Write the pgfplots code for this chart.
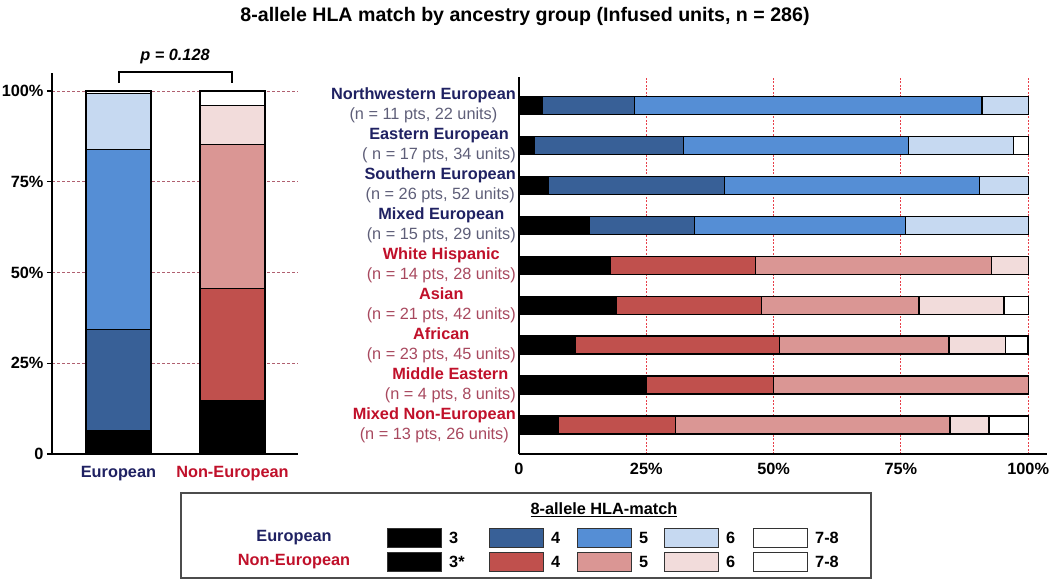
\documentclass[border=0pt]{standalone}
\usepackage{pgfplots}
\usepackage{pgfplotstable}
\pgfplotsset{compat=1.18}
\usepackage{fontspec}
\setmainfont{Liberation Sans}
\definecolor{b4}{HTML}{386097}
\definecolor{b5}{HTML}{558ED5}
\definecolor{b6}{HTML}{C6D9F1}
\definecolor{r4}{HTML}{C0504D}
\definecolor{r5}{HTML}{DA9694}
\definecolor{r6}{HTML}{F2DCDB}
\definecolor{navy}{HTML}{1F2162}
\definecolor{redtxt}{HTML}{C0102A}
\definecolor{graytxt}{HTML}{5E5E78}
\definecolor{rosetxt}{HTML}{A8485E}
\definecolor{gridred}{HTML}{B06070}
\definecolor{gridred2}{HTML}{E8404A}

\pgfplotstableread{
grp e3 e4 e5 e6 e78 n3 n4 n5 n6 n78
0 6.57 27.74 49.64 15.33 0.73 0 0 0 0 0
1 0 0 0 0 0 14.77 30.87 39.60 10.74 4.03
}\overall

\pgfplotstableread{
row e3 e4 e5 e6 e78 n3 n4 n5 n6 n78
9 4.55 18.18 68.18 9.09 0 0 0 0 0 0
8 2.94 29.41 44.12 20.59 2.94 0 0 0 0 0
7 5.77 34.62 50.00 9.62 0 0 0 0 0 0
6 13.79 20.69 41.38 24.14 0 0 0 0 0 0
5 0 0 0 0 0 17.86 28.57 46.43 7.14 0
4 0 0 0 0 0 19.05 28.57 30.95 16.67 4.76
3 0 0 0 0 0 11.11 40.00 33.33 11.11 4.44
2 0 0 0 0 0 25 25 50 0 0
1 0 0 0 0 0 7.69 23.08 53.85 7.69 7.69
}\rows

\newcommand{\fs}{\fontsize{16.3}{20}\selectfont}

\begin{document}
\begin{tikzpicture}
\path[use as bounding box] (0pt,0pt) rectangle (1050pt,-579pt);

\node[font=\fontsize{19.6}{22}\selectfont\bfseries] at (525pt,-16pt) {8-allele HLA match by ancestry group (Infused units, n = 286)};

% Left chart
\begin{axis}[
  at={(52pt,-454pt)}, anchor=south west,
  scale only axis, width=246pt, height=381pt,
  ybar stacked, bar width=65pt,
  xmin=-0.583, xmax=1.575, ymin=0, ymax=104.96,
  axis x line*=bottom, axis y line*=left,
  axis line style={line width=1.5pt, -},
  xtick={0,1},
  xticklabels={\textcolor{navy}{European},\textcolor{redtxt}{Non-European}},
  x tick style={draw=none},
  xticklabel style={yshift=-4pt},
  ytick={0,25,50,75,100},
  yticklabels={0,25\%,50\%,75\%,100\%},
  y tick style={line width=1.2pt, black},
  tick align=outside, major tick length=5pt,
  tick label style={font=\fs\bfseries},
  ymajorgrids, grid style={gridred, dashed, dash pattern=on 3pt off 2pt, line width=0.8pt},
  every axis plot/.append style={draw=black, line width=1.3pt},
  clip=false,
]
\addplot[fill=black] table[x=grp, y=e3] {\overall};
\addplot[fill=b4] table[x=grp, y=e4] {\overall};
\addplot[fill=b5] table[x=grp, y=e5] {\overall};
\addplot[fill=b6] table[x=grp, y=e6] {\overall};
\addplot[fill=white] table[x=grp, y=e78] {\overall};
\addplot[fill=black] table[x=grp, y=n3] {\overall};
\addplot[fill=r4] table[x=grp, y=n4] {\overall};
\addplot[fill=r5] table[x=grp, y=n5] {\overall};
\addplot[fill=r6] table[x=grp, y=n6] {\overall};
\addplot[fill=white] table[x=grp, y=n78] {\overall};
\end{axis}

\draw[line width=1.2pt] (119pt,-83pt) -- (119pt,-72pt) -- (232pt,-72pt) -- (232pt,-83pt);
\node[font=\fs\bfseries\itshape] at (175pt,-56pt) {p = 0.128};

% Right chart
\begin{axis}[
  at={(519pt,-454pt)}, anchor=south west,
  scale only axis, width=528pt, height=377pt,
  xbar stacked, bar width=18pt,
  xmin=0, xmax=103.7, ymin=0.27, ymax=9.72,
  axis x line*=bottom, axis y line*=left,
  axis line style={line width=1.5pt, -},
  xtick={0,25,50,75,100},
  xticklabels={0,25\%,50\%,75\%,100\%},
  ytick={1,2,3,4,5,6,7,8,9},
  yticklabels={
    {\textcolor{redtxt}{\bfseries Mixed Non-European}\\\textcolor{rosetxt}{(n = 13 pts, 26 units)}},
    {\textcolor{redtxt}{\bfseries Middle Eastern}\\\textcolor{rosetxt}{(n = 4 pts, 8 units)}},
    {\textcolor{redtxt}{\bfseries African}\\\textcolor{rosetxt}{(n = 23 pts, 45 units)}},
    {\textcolor{redtxt}{\bfseries Asian}\\\textcolor{rosetxt}{(n = 21 pts, 42 units)}},
    {\textcolor{redtxt}{\bfseries White Hispanic}\\\textcolor{rosetxt}{(n = 14 pts, 28 units)}},
    {\textcolor{navy}{\bfseries Mixed European}\\\textcolor{graytxt}{(n = 15 pts, 29 units)}},
    {\textcolor{navy}{\bfseries Southern European}\\\textcolor{graytxt}{(n = 26 pts, 52 units)}},
    {\textcolor{navy}{\bfseries Eastern European}\\\textcolor{graytxt}{( n = 17 pts, 34 units)}},
    {\textcolor{navy}{\bfseries Northwestern European}\\\textcolor{graytxt}{(n = 11 pts, 22 units)}}
  },
  yticklabel style={align=center, font=\fs, inner sep=3pt},
  xticklabel style={font=\fs\bfseries, yshift=-6pt},
  major tick length=0pt,
  xmajorgrids, grid style={gridred2, dashed, dash pattern=on 2pt off 1.5pt, line width=0.8pt},
  every axis plot/.append style={draw=black, line width=1.3pt},
  clip=false,
]
\addplot[fill=black] table[x=e3, y=row] {\rows};
\addplot[fill=b4] table[x=e4, y=row] {\rows};
\addplot[fill=b5] table[x=e5, y=row] {\rows};
\addplot[fill=b6] table[x=e6, y=row] {\rows};
\addplot[fill=white] table[x=e78, y=row] {\rows};
\addplot[fill=black] table[x=n3, y=row] {\rows};
\addplot[fill=r4] table[x=n4, y=row] {\rows};
\addplot[fill=r5] table[x=n5, y=row] {\rows};
\addplot[fill=r6] table[x=n6, y=row] {\rows};
\addplot[fill=white] table[x=n78, y=row] {\rows};
\end{axis}

% Legend
\draw[line width=1.5pt, black!70] (181pt,-493pt) rectangle (871pt,-578pt);
\node[font=\fs\bfseries] at (604pt,-510pt) {\underline{8-allele HLA-match}};
\node[font=\fs\bfseries, text=navy] at (294pt,-537.5pt) {European};
\node[font=\fs\bfseries, text=redtxt] at (294pt,-561.5pt) {Non-European};
\foreach \xx/\ca/\cb/\la/\lb in {387/black/black/3/3*, 489/b4/r4/4/4, 577/b5/r5/5/5, 664/b6/r6/6/6, 753/white/white/7-8/7-8}{
  \draw[fill=\ca, draw=black!80, line width=1pt] (\xx pt,-528pt) rectangle ++(54pt,-19pt);
  \draw[fill=\cb, draw=black!80, line width=1pt] (\xx pt,-552pt) rectangle ++(54pt,-19pt);
  \node[font=\fs\bfseries, anchor=west, inner sep=0pt] at (\xx pt+62pt,-537.5pt) {\la};
  \node[font=\fs\bfseries, anchor=west, inner sep=0pt] at (\xx pt+62pt,-561.5pt) {\lb};
}
\end{tikzpicture}
\end{document}
